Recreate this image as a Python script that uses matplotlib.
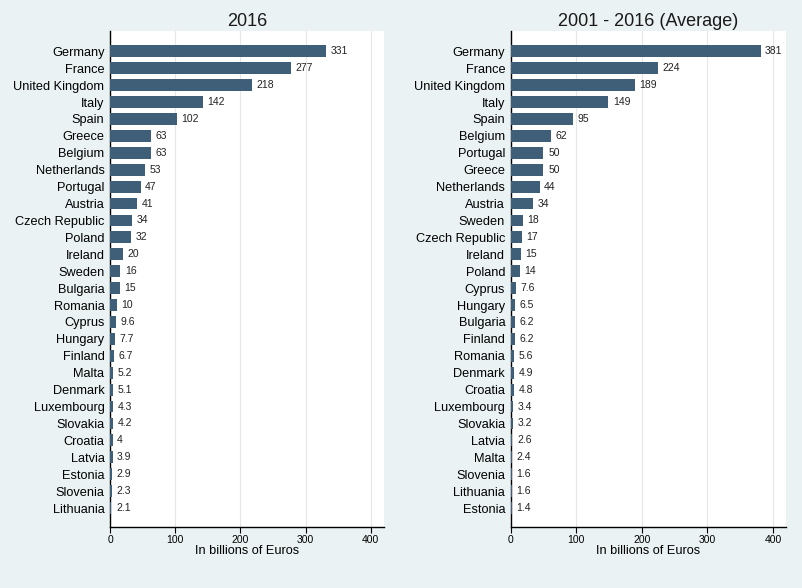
import matplotlib.pyplot as plt

plt.rcParams['font.family'] = ['Liberation Sans', 'DejaVu Sans']

# 2016
countries_2016 = ["Germany", "France", "United Kingdom", "Italy", "Spain", "Greece",
                  "Belgium", "Netherlands", "Portugal", "Austria", "Czech Republic",
                  "Poland", "Ireland", "Sweden", "Bulgaria", "Romania", "Cyprus",
                  "Hungary", "Finland", "Malta", "Denmark", "Luxembourg", "Slovakia",
                  "Croatia", "Latvia", "Estonia", "Slovenia", "Lithuania"]
values_2016 = [331, 277, 218, 142, 102, 63, 63, 53, 47, 41, 34, 32, 20, 16, 15, 10,
               9.6, 7.7, 6.7, 5.2, 5.1, 4.3, 4.2, 4, 3.9, 2.9, 2.3, 2.1]

# 2001 - 2016 average
countries_avg = ["Germany", "France", "United Kingdom", "Italy", "Spain", "Belgium",
                 "Portugal", "Greece", "Netherlands", "Austria", "Sweden",
                 "Czech Republic", "Ireland", "Poland", "Cyprus", "Hungary",
                 "Bulgaria", "Finland", "Romania", "Denmark", "Croatia", "Luxembourg",
                 "Slovakia", "Latvia", "Malta", "Slovenia", "Lithuania", "Estonia"]
values_avg = [381, 224, 189, 149, 95, 62, 50, 50, 44, 34, 18, 17, 15, 14, 7.6, 6.5,
              6.2, 6.2, 5.6, 4.9, 4.8, 3.4, 3.2, 2.6, 2.4, 1.6, 1.6, 1.4]

xticks = [0, 100, 200, 300, 400]

bg = "#eaf2f3"
bar_color = "#3e5f77"

fig = plt.figure(figsize=(8.03, 5.88), dpi=100, facecolor=bg)
ax1 = fig.add_axes([0.137, 0.1037, 0.341, 0.843])
ax2 = fig.add_axes([0.636, 0.1037, 0.343, 0.843])


def fmt(v):
    if v == int(v):
        return str(int(v))
    return str(v)


for ax, names, vals, title in [(ax1, countries_2016, values_2016, "2016"),
                               (ax2, countries_avg, values_avg, "2001 - 2016 (Average)")]:
    pos = list(range(len(names)))
    ax.set_facecolor("white")
    ax.barh(pos, vals, height=0.7, color=bar_color, zorder=3)
    for p, v in zip(pos, vals):
        ax.text(v + 7, p, fmt(v), va="center", ha="left", fontsize=7.5, color="#222222")
    ax.set_yticks(pos)
    ax.set_yticklabels(names, fontsize=9.2)
    ax.set_ylim(len(names) - 1 + 1.12, -1.18)
    ax.set_xlim(0, 420)
    ax.set_xticks(xticks)
    ax.set_xticklabels([str(t) for t in xticks], fontsize=7.5)
    ax.grid(axis="x", color="#e6e6e6", linewidth=0.8, zorder=0)
    ax.tick_params(axis="y", length=0, pad=4)
    ax.tick_params(axis="x", length=4, width=0.8, pad=2)
    for s in ["top", "right"]:
        ax.spines[s].set_visible(False)
    ax.spines["left"].set_linewidth(1.0)
    ax.spines["bottom"].set_linewidth(1.0)
    ax.set_xlabel("In billions of Euros", fontsize=9.2, labelpad=0)
    ax.set_title(title, fontsize=13, color="#1a1a1a", pad=4)

fig.savefig("out.png", dpi=100, facecolor=bg)
